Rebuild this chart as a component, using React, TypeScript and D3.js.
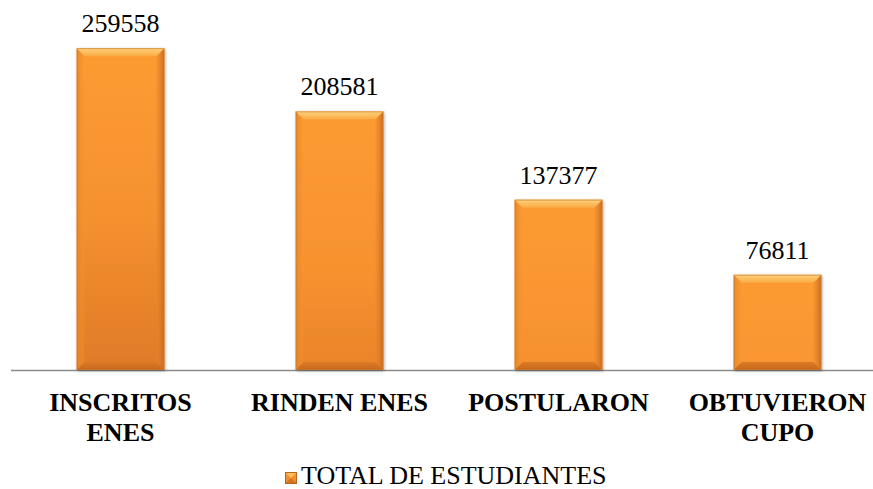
import * as d3 from "d3";

const categories = ["INSCRITOS ENES", "RINDEN ENES", "POSTULARON", "OBTUVIERON CUPO"];
const categoryLines = [["INSCRITOS", "ENES"], ["RINDEN ENES"], ["POSTULARON"], ["OBTUVIERON", "CUPO"]];
const totals = [259558, 208581, 137377, 76811];
const seriesName = "TOTAL DE ESTUDIANTES";

const W = 873;
const H = 489;
const FONT = "Liberation Serif";

export default function App() {
  const baseY = 370;
  const x = d3.scaleBand<string>()
    .domain(categories)
    .range([11, 887])
    .paddingInner(0.6)
    .paddingOuter(0.3);
  const y = d3.scaleLinear().domain([0, 300000]).range([baseY, -2]);
  const bw = x.bandwidth();
  const bev = 8;
  const span = y(0) - y(d3.max(totals)!);
  const pts = (arr: number[][]) => arr.map(p => p.join(",")).join(" ");

  const lx = 285, ly = 472, ls = 12;

  return (
    <svg width={W} height={H} style={{ position: "absolute", left: 0, top: 0, display: "block" }}>
      <defs>
        {totals.map((v, i) => (
          <linearGradient key={i} id={`barFill${i}`} gradientUnits="userSpaceOnUse"
            x1="0" y1={y(v)} x2="0" y2={y(v) + span}>
            <stop offset="0%" stopColor="#fd9b32" />
            <stop offset="50%" stopColor="#f6922f" />
            <stop offset="100%" stopColor="#e07a28" />
          </linearGradient>
        ))}
        <linearGradient id="legendFill" x1="0" y1="0" x2="0" y2="1">
          <stop offset="0%" stopColor="#fb9d33" />
          <stop offset="100%" stopColor="#ea8428" />
        </linearGradient>
        <linearGradient id="topBevel" x1="0" y1="0" x2="0" y2="1">
          <stop offset="0%" stopColor="#fcd27c" />
          <stop offset="100%" stopColor="#fbab45" />
        </linearGradient>
        <linearGradient id="botBevel" x1="0" y1="0" x2="0" y2="1">
          <stop offset="0%" stopColor="#dc7a26" />
          <stop offset="100%" stopColor="#c6681d" />
        </linearGradient>
        <linearGradient id="leftBevel" x1="0" y1="0" x2="1" y2="0">
          <stop offset="0%" stopColor="#e38428" stopOpacity={0.9} />
          <stop offset="100%" stopColor="#f6952f" stopOpacity={0.2} />
        </linearGradient>
        <linearGradient id="rightBevel" x1="0" y1="0" x2="1" y2="0">
          <stop offset="0%" stopColor="#e8852a" stopOpacity={0.3} />
          <stop offset="100%" stopColor="#c9691d" stopOpacity={0.95} />
        </linearGradient>
        <filter id="shadow" x="-10%" y="-10%" width="130%" height="130%">
          <feDropShadow dx={1} dy={1} stdDeviation={1.5} floodColor="#000" floodOpacity={0.35} />
        </filter>
      </defs>

      {/* axis line */}
      <line x1={11} x2={W} y1={baseY + 0.5} y2={baseY + 0.5} stroke="#8c8c8c" strokeWidth={1.5} />

      {categories.map((c, i) => {
        const x0 = x(c)!;
        const x1 = x0 + bw;
        const y0 = y(totals[i]);
        const y1 = y(0);
        return (
          <g key={c}>
            <rect x={x0} y={y0} width={bw} height={y1 - y0} fill={`url(#barFill${i})`} filter="url(#shadow)" />
            <polygon points={pts([[x0, y0], [x0 + bev, y0 + bev], [x0 + bev, y1 - bev], [x0, y1]])} fill="url(#leftBevel)" />
            <polygon points={pts([[x1, y0], [x1 - bev, y0 + bev], [x1 - bev, y1 - bev], [x1, y1]])} fill="url(#rightBevel)" />
            <polygon points={pts([[x0, y0], [x1, y0], [x1 - bev, y0 + bev], [x0 + bev, y0 + bev]])} fill="url(#topBevel)" />
            <polygon points={pts([[x0, y1], [x1, y1], [x1 - bev, y1 - bev], [x0 + bev, y1 - bev]])} fill="url(#botBevel)" />
            <rect x={x0 + 0.5} y={y0 + 0.5} width={bw - 1} height={y1 - y0 - 1}
              fill="none" stroke="#c57a30" strokeWidth={1} strokeOpacity={0.6} />
            <text x={x0 + bw / 2} y={y0 - 16} textAnchor="middle" fontSize={26} fill="#000"
              style={{ fontFamily: FONT }}>{totals[i]}</text>
            <text textAnchor="middle" fontSize={26} fontWeight="bold" fill="#000" style={{ fontFamily: FONT }}>
              {categoryLines[i].map((line, j) => (
                <tspan key={j} x={x0 + bw / 2} y={411 + j * 30}>{line}</tspan>
              ))}
            </text>
          </g>
        );
      })}

      {/* legend */}
      <g>
        <rect x={lx} y={ly} width={ls} height={ls} fill="url(#legendFill)" />
        <polygon points={`${lx},${ly} ${lx + ls},${ly} ${lx + ls / 2},${ly + ls / 2}`} fill="#fbc05e" />
        <polygon points={`${lx},${ly + ls} ${lx + ls},${ly + ls} ${lx + ls / 2},${ly + ls / 2}`} fill="#d2731f" />
        <rect x={lx + 0.5} y={ly + 0.5} width={ls - 1} height={ls - 1} fill="none" stroke="#b8651f" strokeWidth={1} />
        <text x={lx + ls + 4} y={484} fontSize={26} fill="#000" style={{ fontFamily: FONT }}>{seriesName}</text>
      </g>
    </svg>
  );
}
